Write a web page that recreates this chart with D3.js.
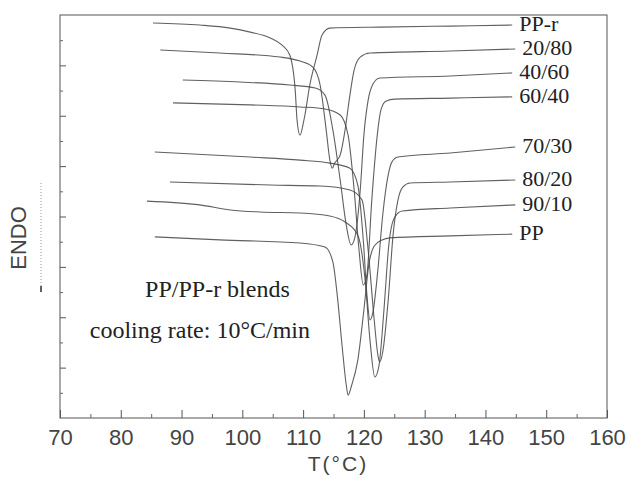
<!DOCTYPE html>
<html>
<head>
<meta charset="utf-8">
<script src="https://cdn.jsdelivr.net/npm/d3@7/dist/d3.min.js"></script>
<style>
  body { margin: 0; background: #fff; }
</style>
</head>
<body>
<div id="chart"></div>
<script>
// DSC cooling curves, [T (°C), heat flow (arb. units, offset)]
const seriesNames = ["PP-r", "20/80", "40/60", "60/40", "70/30", "80/20", "90/10", "PP"]

const ppr = [[85.3,15.68],[93.0,15.60],[98.0,15.48],[101.3,15.32],[104.6,15.09],[106.5,14.81],[107.8,14.41],
  [108.7,13.02],[109.0,11.83],[109.5,11.23],[110.0,11.67],[110.3,12.03],[111.1,13.22],[112.3,14.41],
  [113.1,15.20],[114.4,15.48],[122.6,15.52],[134.2,15.56],[144.4,15.60]]

const b2080 = [[86.5,14.61],[96.3,14.49],[106.2,14.33],[109.5,14.17],[111.6,13.93],[112.8,13.22],[113.8,11.43],
  [114.4,10.24],[114.8,9.92],[115.2,10.12],[116.1,10.44],[116.9,11.43],[117.7,12.82],[118.4,13.82],
  [119.4,14.33],[121.0,14.49],[134.2,14.57],[144.9,14.65]]

const b4060 = [[90.2,13.42],[99.6,13.34],[107.8,13.22],[112.0,13.10],[113.6,12.82],[114.9,11.43],[116.1,9.45],
  [117.1,7.66],[117.9,6.87],[118.5,7.15],[119.4,9.05],[120.0,11.23],[120.7,12.62],[121.5,13.26],
  [122.6,13.50],[134.2,13.58],[144.4,13.70]]

const b6040 = [[88.6,12.51],[101.3,12.43],[109.5,12.35],[113.6,12.27],[116.1,12.03],[117.4,11.23],[118.4,9.05],
  [119.2,6.67],[119.9,5.28],[120.5,5.68],[121.3,8.65],[122.2,11.23],[122.8,12.23],[123.6,12.58],
  [125.1,12.66],[134.2,12.70],[144.4,12.75]]

const b7030 = [[85.6,10.56],[101.3,10.36],[109.5,10.24],[114.4,10.12],[117.7,9.92],[119.0,9.25],[119.9,7.07],
  [120.5,4.88],[121.0,3.89],[121.5,4.21],[122.3,5.88],[123.1,8.06],[124.0,9.65],[124.6,10.16],
  [125.6,10.36],[134.2,10.52],[144.9,10.76]]

const b8020 = [[88.1,9.37],[104.6,9.25],[112.8,9.21],[117.7,9.05],[119.7,8.65],[120.7,6.67],[121.7,3.89],
  [122.3,2.50],[122.6,2.22],[123.1,2.62],[124.0,4.68],[124.8,7.26],[125.6,8.65],[126.4,9.17],
  [127.6,9.33],[134.2,9.37],[144.9,9.45]]

const b9010 = [[84.3,8.61],[93.0,8.46],[98.0,8.26],[102.9,8.18],[109.5,8.14],[114.4,8.02],[116.9,7.78],
  [119.0,7.26],[120.2,5.48],[121.0,3.10],[121.8,1.63],[122.5,2.10],[123.3,4.29],[124.1,6.87],
  [125.0,7.94],[126.3,8.22],[134.2,8.34],[144.9,8.46]]

const pp = [[85.6,7.19],[96.3,7.07],[109.5,6.95],[113.6,6.79],[114.9,6.19],[115.7,4.68],[116.4,2.90],
  [117.1,1.31],[117.4,0.91],[118.0,1.31],[119.0,2.30],[120.0,4.29],[120.8,6.07],[121.7,6.83],
  [123.0,7.07],[124.3,7.15],[134.2,7.23],[144.4,7.30]]

const allSeries = [ppr, b2080, b4060, b6040, b7030, b8020, b9010, pp]

const xTicks = d3.range(70, 161, 10)
const xMinor = d3.range(75, 160, 10)

const width = 632, height = 478

const svg = d3.select("#chart")
  .append("svg")
  .attr("width", width)
  .attr("height", height)

const x = d3.scaleLinear().domain([70, 160]).range([60, 607])
const y = d3.scaleLinear().domain([0, 16]).range([418, 15])

// frame
svg.append("rect")
  .attr("x", x(70)).attr("y", y(16))
  .attr("width", x(160) - x(70)).attr("height", y(0) - y(16))
  .attr("fill", "none").attr("stroke", "#555").attr("stroke-width", 1)

// x axis, ticks pointing inwards
const xAxis = svg.append("g")
  .attr("transform", "translate(0," + y(0) + ")")
  .call(d3.axisBottom(x).tickValues(xTicks).tickSize(-8).tickPadding(11))
xAxis.select(".domain").remove()
xAxis.selectAll("line").attr("stroke", "#555")
xAxis.selectAll("text")
  .attr("font-family", "Liberation Sans, Arial, sans-serif")
  .attr("font-size", 22).attr("fill", "#444")

const xAxisMinor = svg.append("g")
  .attr("transform", "translate(0," + y(0) + ")")
  .call(d3.axisBottom(x).tickValues(xMinor).tickSize(-4).tickFormat(""))
xAxisMinor.select(".domain").remove()
xAxisMinor.selectAll("line").attr("stroke", "#666")

// y axis, no values
const yAxis = svg.append("g")
  .attr("transform", "translate(" + x(70) + ",0)")
  .call(d3.axisLeft(y).tickValues(d3.range(2, 16, 2)).tickSize(-6).tickFormat(""))
yAxis.select(".domain").remove()
yAxis.selectAll("line").attr("stroke", "#555")

const yAxisMinor = svg.append("g")
  .attr("transform", "translate(" + x(70) + ",0)")
  .call(d3.axisLeft(y).tickValues(d3.range(1, 16, 2)).tickSize(-3).tickFormat(""))
yAxisMinor.select(".domain").remove()
yAxisMinor.selectAll("line").attr("stroke", "#666")

// curves
const line = d3.line()
  .x(d => x(d[0]))
  .y(d => y(d[1]))
  .curve(d3.curveMonotoneX)

svg.append("g")
  .selectAll("path")
  .data(allSeries)
  .join("path")
  .attr("d", line)
  .attr("fill", "none")
  .attr("stroke", "#444")
  .attr("stroke-width", 1.1)
  .attr("stroke-opacity", 0.85)

// labels at the right end of each curve
svg.append("g")
  .selectAll("text")
  .data(allSeries)
  .join("text")
  .attr("x", d => x(d[d.length - 1][0]) + 7)
  .attr("y", d => y(d[d.length - 1][1]) + 6)
  .attr("font-family", "Liberation Serif, Times New Roman, serif")
  .attr("font-size", 22)
  .attr("fill", "#222")
  .text((d, i) => seriesNames[i])

// annotations
svg.append("text")
  .attr("x", x(84.0)).attr("y", y(4.80))
  .attr("font-family", "Liberation Serif, Times New Roman, serif")
  .attr("font-size", 24).attr("fill", "#222")
  .text("PP/PP-r blends")

svg.append("text")
  .attr("x", x(74.9)).attr("y", y(3.18))
  .attr("font-family", "Liberation Serif, Times New Roman, serif")
  .attr("font-size", 24).attr("fill", "#222")
  .text("cooling rate: 10°C/min")

// axis titles
svg.append("text")
  .attr("x", 338).attr("y", 471)
  .attr("text-anchor", "middle")
  .attr("font-family", "Liberation Sans, Arial, sans-serif")
  .attr("font-size", 21).attr("fill", "#444")
  .attr("letter-spacing", 2)
  .text("T(°C)")

svg.append("text")
  .attr("transform", "translate(26,238) rotate(-90)")
  .attr("text-anchor", "middle")
  .attr("font-family", "Liberation Sans, Arial, sans-serif")
  .attr("font-size", 22).attr("fill", "#444")
  .text("ENDO")

// faint endo arrow next to the title
svg.append("line")
  .attr("x1", 41).attr("x2", 41).attr("y1", 183).attr("y2", 292)
  .attr("stroke", "#999").attr("stroke-dasharray", "1,2")
svg.append("line")
  .attr("x1", 41).attr("x2", 41).attr("y1", 286).attr("y2", 292)
  .attr("stroke", "#333").attr("stroke-width", 1.5)
</script>
</body>
</html>
